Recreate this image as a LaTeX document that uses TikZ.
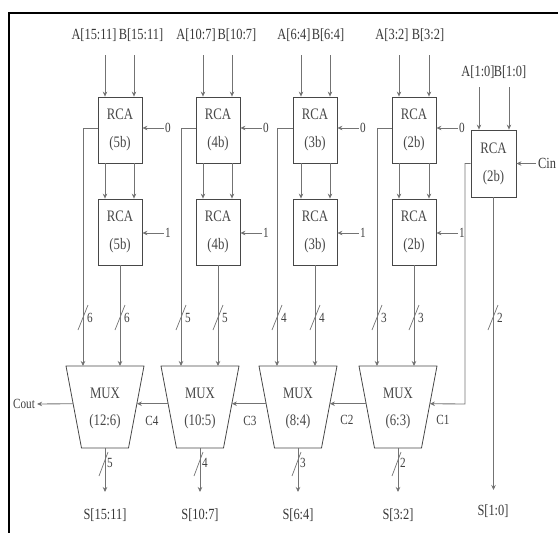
\documentclass[tikz,border=0pt]{standalone}
\usepackage{fontspec}
\setmainfont[FakeStretch=0.8]{Liberation Serif}
\usetikzlibrary{arrows.meta,calc}
\begin{document}
\begin{tikzpicture}[x=1pt,y=-1pt,
  lbl/.style={font=\fontsize{15.5}{18}\selectfont, text=black!78, inner sep=0pt},
  sml/.style={font=\fontsize{14}{16}\selectfont, text=black!75, inner sep=0pt},
  rca/.style={draw=black!72, line width=0.8pt, minimum width=44pt, minimum height=66pt, align=center,
    inner sep=0pt, text=black!72, font=\fontsize{16}{28}\selectfont},
  muxt/.style={align=center, inner sep=0pt, text=black!72, font=\fontsize{16}{27}\selectfont},
  muxs/.style={draw=black!72, line width=0.8pt},
  arr/.style={draw=black!55, line width=0.85pt, -{Stealth[length=5pt,width=4.5pt,fill=black!80]}},
  slash/.style={draw=black!55, line width=0.7pt}]
\useasboundingbox (0,0) rectangle (558,533);
% frame
\draw[line width=2.2pt] (9,533) -- (9,13) -- (558,13);
% four carry-select columns
\foreach \i/\cx/\ax/\bx/\al/\bl/\alx/\blx/\sz/\nb/\mx/\ml/\kx/\sl/\ob in {
  1/120/105/134/{A[15:11]}/{B[15:11]}/94/141/5b/6/105/12:6/83/{S[15:11]}/5,
  2/218/203/232/{A[10:7]}/{B[10:7]}/196/237/4b/5/200/10:5/181/{S[10:7]}/4,
  3/315/301/330/{A[6:4]}/{B[6:4]}/294/328/3b/4/298/8:4/277/{S[6:4]}/3,
  4/414/399/429/{A[3:2]}/{B[3:2]}/392/428/2b/3/398/6:3/377/{S[3:2]}/2}{
  \node[rca] (rt\i) at (\cx,130) {RCA\\(\sz)};
  \node[rca] (rb\i) at (\cx,232) {RCA\\(\sz)};
  \node[lbl] (la\i) at (\alx,35) {\al};
  \node[lbl] (lb\i) at (\blx,35) {\bl};
  \coordinate (sa\i) at (\ax,55);
  \coordinate (sb\i) at (\bx,55);
  \draw[arr] (sa\i) -- (sa\i |- rt\i.north);
  \draw[arr] (sb\i) -- (sb\i |- rt\i.north);
  \draw[arr] (sa\i |- rt\i.south) -- (sa\i |- rb\i.north);
  \draw[arr] (sb\i |- rt\i.south) -- (sb\i |- rb\i.north);
  % carry-in constants
  \node[sml] (z\i) at (\cx+48,128) {0};
  \draw[arr] ([xshift=-1.5pt]z\i.west) -- (z\i -| rt\i.east);
  \node[sml] (u\i) at (\cx+48,233) {1};
  \draw[arr] ([xshift=-1.5pt]u\i.west) -- (u\i -| rb\i.east);
  % mux
  \coordinate (mtl\i) at (\mx-39,366);
  \coordinate (mtr\i) at (\mx+39,366);
  \coordinate (mbl\i) at (\mx-23.5,448);
  \coordinate (mbr\i) at (\mx+23.5,448);
  \draw[muxs] (mtl\i) -- (mtr\i) -- (mbr\i) -- (mbl\i) -- cycle;
  \node[muxt] (m\i) at (\mx,408) {MUX\\(\ml)};
  % RCA outputs into mux
  \coordinate (k\i) at (\kx,128);
  \draw[arr] (rt\i.west |- k\i) -- (k\i) -- (k\i |- mtl\i);
  \draw[arr] (rb\i.south) -- (rb\i.south |- mtl\i);
  \draw[slash] (\kx-5,330) -- (\kx+5,305);
  \node[sml] (wa\i) at (\kx+7,318) {\nb};
  \draw[slash] (\cx-5,330) -- (\cx+5,305);
  \node[sml] (wb\i) at (\cx+7,318) {\nb};
  % mux output
  \coordinate (o\i) at (\mx,492);
  \draw[arr] (m\i.center |- mbl\i) -- (o\i);
  \draw[slash] (\mx-6,476) -- (\mx+3,452);
  \node[sml] (wo\i) at (\mx+5,463) {\ob};
  \node[lbl] (s\i) at (\mx,515) {\sl};
}
% least significant RCA
\node[rca, minimum width=45pt, minimum height=67pt] (rc) at (493.5,163.5) {RCA\\(2b)};
\node[lbl] (la5) at (478,72) {A[1:0]};
\node[lbl] (lb5) at (510,72) {B[1:0]};
\coordinate (sa5) at (479,87);
\coordinate (sb5) at (509,87);
\draw[arr] (sa5) -- (sa5 |- rc.north);
\draw[arr] (sb5) -- (sb5 |- rc.north);
\node[lbl, anchor=west] (cin) at (538,163.5) {Cin};
\draw[arr] ([xshift=-2pt]cin.west) -- (rc.east);
\coordinate (o5) at (rc.south |- 0,490);
\draw[arr] (rc.south) -- (o5);
\draw[slash] (488,330) -- (498,305);
\node[sml] (wa5) at (500,318) {2};
\node[lbl] (s5) at (493,511) {S[1:0]};
% carry chain
\coordinate (k5) at (465,163.5);
\coordinate (k5b) at (465,404);
\draw[arr] (rc.west) -- (k5) -- (k5b) -- ($(mtr4)!0.46!(mbr4)$);
\node[sml] (c1) at (443,420) {C1};
\draw[arr] ($(mtl4)!0.46!(mbl4)$) -- ($(mtr3)!0.46!(mbr3)$);
\node[sml] (c2) at (347,420) {C2};
\draw[arr] ($(mtl3)!0.46!(mbl3)$) -- ($(mtr2)!0.46!(mbr2)$);
\node[sml] (c3) at (250,421) {C3};
\draw[arr] ($(mtl2)!0.46!(mbl2)$) -- ($(mtr1)!0.46!(mbr1)$);
\node[sml] (c4) at (152,421) {C4};
\node[sml] (cout) at (24,404) {Cout};
\draw[arr] ($(mtl1)!0.46!(mbl1)$) -- ([xshift=2pt]cout.east);
\end{tikzpicture}
\end{document}
